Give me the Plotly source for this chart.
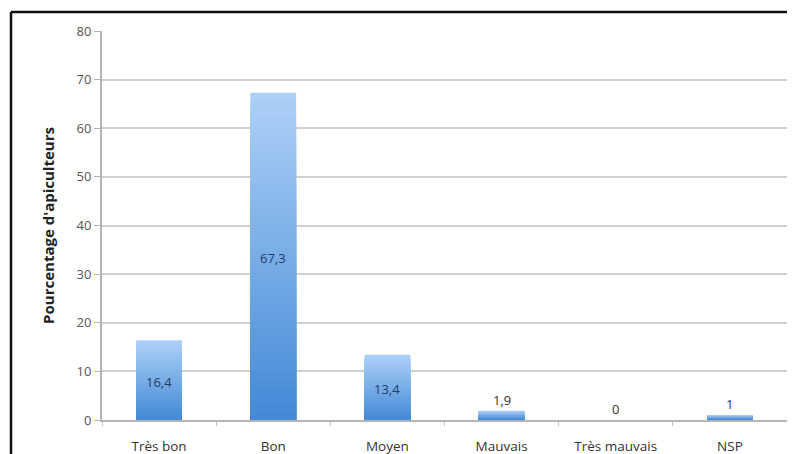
import plotly.graph_objects as go

categories = ["Très bon", "Bon", "Moyen", "Mauvais", "Très mauvais", "NSP"]
values = [16.4, 67.3, 13.4, 1.9, 0, 1]
value_labels = ["16,4", "67,3", "13,4", "1,9", "0", "1"]
y_ticks = [0, 10, 20, 30, 40, 50, 60, 70, 80]

W, H = 795, 454
ml, mr, mt, mb = 94, 16, 23, 42
OFF = 8  # page body margin

fig = go.Figure()

# gradient fill: overlaid bars of decreasing height, light at top, darker at bottom
N = 40
top_c = (172, 208, 247)
bot_c = (68, 138, 214)
for i in range(N):
    t = 1 - i / (N - 1)
    c = tuple(round(bot_c[k] + (top_c[k] - bot_c[k]) * t) for k in range(3))
    fig.add_trace(go.Bar(
        x=categories,
        y=[v * (N - i) / N for v in values],
        marker=dict(color=f"rgb{c}", line=dict(width=0)),
        width=0.4,
        hoverinfo="skip",
        showlegend=False,
    ))

# value labels: centered inside for large bars, above for small ones
for cat, v, lab in zip(categories, values, value_labels):
    if v >= 5:
        fig.add_annotation(x=cat, y=v / 2, text=lab, showarrow=False,
                           yanchor="middle", yshift=-2,
                           font=dict(family="Open Sans", size=13, color="#1f3d6b"))
    else:
        fig.add_annotation(x=cat, y=v, text=lab, showarrow=False,
                           yanchor="bottom", yshift=0,
                           font=dict(family="Open Sans", size=13, color="#333333"))

fig.update_layout(
    barmode="overlay",
    width=W, height=H,
    margin=dict(l=ml, r=mr, t=mt, b=mb, autoexpand=False),
    paper_bgcolor="white",
    plot_bgcolor="white",
    font=dict(family="Open Sans", size=12, color="#444444"),
    xaxis=dict(
        showgrid=False,
        showline=True, linecolor="#b5b5b5", linewidth=2,
        ticks="outside", tickson="boundaries", ticklen=4, tickcolor="#c0c0c0",
        ticklabelstandoff=13,
        automargin=False,
        tickfont=dict(size=13.5, color="#333333"),
        fixedrange=True,
    ),
    yaxis=dict(
        range=[0, 80],
        tickvals=y_ticks,
        showgrid=True, gridcolor="#d0d0d0", gridwidth=2,
        showline=True, linecolor="#b5b5b5", linewidth=2,
        ticks="outside", ticklen=6, tickcolor="#b5b5b5",
        tickfont=dict(size=13, color="#555555"),
        zeroline=False,
        automargin=False,
        title=dict(text="<b>Pourcentage d'apiculteurs</b>", font=dict(size=15, color="#222222"), standoff=18),
    ),
)

pw = W - ml - mr
ph = H - mt - mb
lx = 11 - OFF
ty = 12 - OFF
# outer frame (left and top edges visible)
fig.add_shape(type="line", xref="paper", yref="paper",
              x0=(lx - ml) / pw, x1=(lx - ml) / pw, y0=(H - mb - 470) / ph, y1=(H - mb - ty) / ph,
              line=dict(color="#111111", width=2.5))
fig.add_shape(type="line", xref="paper", yref="paper",
              x0=(lx - ml) / pw, x1=(W + 5 - ml) / pw, y0=(H - mb - ty) / ph, y1=(H - mb - ty) / ph,
              line=dict(color="#111111", width=2.5))

fig.write_html("out.html")
